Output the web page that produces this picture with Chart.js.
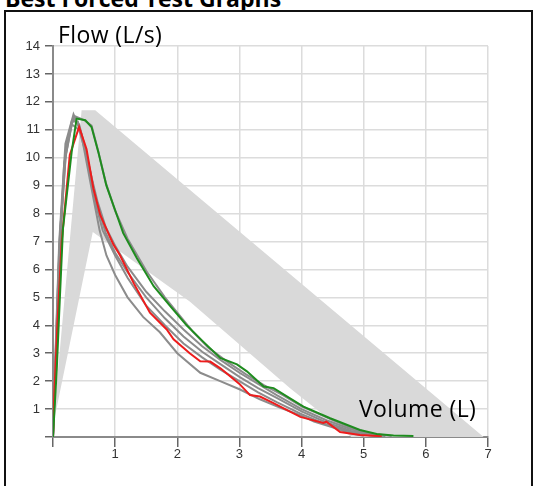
<!DOCTYPE html>
<html>
<head>
<meta charset="utf-8">
<script src="https://cdn.jsdelivr.net/npm/chart.js@4.4.1/dist/chart.umd.min.js"></script>
<style>
  html, body { margin: 0; padding: 0; background: #fff; overflow: hidden; }
  body { width: 536px; height: 486px; position: relative; }
  #title { position: absolute; left: 5px; top: -13px; font: bold 23px 'Open Sans', sans-serif; line-height: 22px; color: #000; white-space: nowrap; }
  #frame { position: absolute; left: 4px; top: 10px; width: 525px; height: 500px; border: 2px solid #111; background: #fff; }
  #chart { position: absolute; left: 0; top: 0; }
  .axis-title { position: absolute; font: 23px 'Open Sans', sans-serif; letter-spacing: 0.4px; color: #000; white-space: nowrap; line-height: 22px; }
  #ytitle { left: 58px; top: 23px; }
  #xtitle { left: 359px; top: 397px; }
</style>
</head>
<body>
<div id="title">Best Forced Test Graphs</div>
<div id="frame"></div>
<canvas id="chart" width="536" height="486"></canvas>
<div class="axis-title" id="ytitle">Flow (L/s)</div>
<div class="axis-title" id="xtitle">Volume (L)</div>
<script>
const xTicks = [0, 1, 2, 3, 4, 5, 6, 7];
const yTicks = [0, 1, 2, 3, 4, 5, 6, 7, 8, 9, 10, 11, 12, 13, 14];

// predicted range (grey band outline)
const bandVol = [0, 0.46, 0.68, 6.93, 4.8, 3.82, 2.2, 0.64, 0];
const bandFlow = [0.4, 11.7, 11.7, 0, 0, 1.74, 4.85, 7.34, 0.4];

// best trial
const redVol = [0, 0.02, 0.07, 0.14, 0.27, 0.42, 0.54, 0.65, 0.76, 0.97, 1.08, 1.3, 1.56, 1.83, 1.94, 2.2, 2.37, 2.53, 2.7, 3.0, 3.17, 3.33, 3.54, 3.98, 4.35, 4.4, 4.62, 4.94, 5.29];
const redFlow = [0, 1.5, 4.0, 7.0, 10.1, 11.1, 10.3, 8.9, 7.95, 6.9, 6.5, 5.5, 4.45, 3.85, 3.5, 3.0, 2.71, 2.7, 2.45, 1.9, 1.5, 1.45, 1.22, 0.72, 0.5, 0.55, 0.18, 0.07, 0.03];

const greenVol = [0, 0.06, 0.1, 0.16, 0.3, 0.38, 0.52, 0.62, 0.73, 0.86, 1.03, 1.13, 1.35, 1.62, 1.88, 2.15, 2.4, 2.69, 2.96, 3.12, 3.39, 3.55, 4.03, 4.46, 4.94, 5.21, 5.48, 5.8];
const greenFlow = [0, 2.4, 4.45, 7.45, 10.2, 11.4, 11.34, 11.1, 10.2, 9.0, 7.93, 7.3, 6.4, 5.4, 4.7, 4.0, 3.45, 2.83, 2.6, 2.35, 1.81, 1.75, 1.09, 0.67, 0.25, 0.11, 0.05, 0.04];

// other trials
const grey1Vol = [0, 0.05, 0.12, 0.22, 0.34, 0.5, 0.62, 0.72, 0.85, 1.0, 1.2, 1.5, 1.8, 2.0, 2.26, 2.5, 2.8, 3.1, 3.4, 3.7, 4.0, 4.4, 4.8, 5.1, 5.45];
const grey1Flow = [0, 3.0, 7.5, 10.5, 11.5, 11.35, 11.15, 10.3, 9.1, 8.1, 7.1, 5.95, 5.0, 4.45, 3.75, 3.2, 2.7, 2.25, 1.85, 1.5, 1.1, 0.7, 0.33, 0.13, 0.04];

const grey2Vol = [0, 0.04, 0.1, 0.2, 0.32, 0.42, 0.52, 0.62, 0.72, 0.85, 1.0, 1.2, 1.5, 1.8, 2.1, 2.4, 2.7, 3.0, 3.3, 3.6, 4.0, 4.4, 4.8, 5.1, 5.35];
const grey2Flow = [0, 2.5, 6.5, 10.0, 11.4, 11.2, 10.3, 9.3, 8.4, 7.5, 6.85, 6.1, 5.2, 4.5, 3.85, 3.25, 2.75, 2.3, 1.9, 1.5, 1.0, 0.6, 0.28, 0.1, 0.03];

const grey3Vol = [0, 0.04, 0.1, 0.2, 0.3, 0.4, 0.5, 0.6, 0.7, 0.85, 1.0, 1.2, 1.5, 1.8, 2.1, 2.4, 2.7, 3.0, 3.3, 3.6, 4.0, 4.4, 4.8, 5.1, 5.3];
const grey3Flow = [0, 2.8, 6.8, 10.2, 11.3, 11.3, 10.5, 9.5, 8.4, 7.3, 6.6, 5.9, 5.0, 4.25, 3.6, 3.05, 2.6, 2.15, 1.75, 1.4, 0.92, 0.52, 0.22, 0.07, 0.02];

const grey4Vol = [0, 0.03, 0.09, 0.18, 0.3, 0.42, 0.55, 0.68, 0.8, 1.0, 1.2, 1.5, 1.8, 2.1, 2.4, 2.7, 3.0, 3.3, 3.6, 4.0, 4.4, 4.8, 5.1, 5.25];
const grey4Flow = [0, 2.0, 6.0, 9.8, 11.2, 11.0, 10.0, 8.4, 7.4, 6.5, 5.7, 4.7, 4.0, 3.35, 2.85, 2.4, 2.0, 1.6, 1.25, 0.82, 0.45, 0.18, 0.05, 0.02];

const grey5Vol = [0, 0.04, 0.1, 0.2, 0.33, 0.45, 0.62, 0.75, 0.86, 1.0, 1.2, 1.45, 1.72, 2.0, 2.37, 2.69, 3.01, 3.33, 3.65, 3.98, 4.2, 4.46, 4.78, 5.0];
const grey5Flow = [0, 3.0, 7.0, 10.5, 11.55, 10.9, 8.9, 7.4, 6.5, 5.8, 5.0, 4.3, 3.75, 3.0, 2.3, 2.0, 1.7, 1.35, 1.05, 0.78, 0.55, 0.37, 0.14, 0.04];

const toPoints = (xs, ys) => xs.map((x, i) => ({ x: x, y: ys[i] }));

const trace = (xs, ys, color, order) => ({
  data: toPoints(xs, ys),
  borderColor: color,
  borderWidth: 2,
  pointRadius: 0,
  tension: 0,
  fill: false,
  order: order,
});

const greyTrace = '#8c8c8c';

new Chart(document.getElementById('chart'), {
  type: 'line',
  data: {
    datasets: [
      {
        data: toPoints(bandVol, bandFlow),
        borderWidth: 0,
        borderColor: 'rgba(0,0,0,0)',
        backgroundColor: '#d9d9d9',
        pointRadius: 0,
        tension: 0,
        fill: 'shape',
        order: 10,
      },
      trace(grey1Vol, grey1Flow, greyTrace, 5),
      trace(grey2Vol, grey2Flow, greyTrace, 5),
      trace(grey3Vol, grey3Flow, greyTrace, 5),
      trace(grey4Vol, grey4Flow, greyTrace, 5),
      trace(grey5Vol, grey5Flow, greyTrace, 5),
      trace(redVol, redFlow, '#ee1c1c', 2),
      trace(greenVol, greenFlow, '#1e8c1e', 1),
    ],
  },
  options: {
    responsive: false,
    animation: false,
    layout: { padding: { left: 0, right: 48, top: 46, bottom: 0 } },
    plugins: { legend: { display: false }, tooltip: { enabled: false } },
    scales: {
      x: {
        type: 'linear',
        min: 0,
        max: 7,
        afterFit: (s) => { s.height = 49; },
        afterBuildTicks: (s) => { s.ticks = xTicks.map((v) => ({ value: v })); },
        ticks: {
          padding: 0,
          color: '#333',
          font: { family: "'Liberation Sans', Arial, sans-serif", size: 13 },
          callback: (v) => (v === 0 ? '' : v),
        },
        grid: { color: '#dcdcdc', lineWidth: 1.5, tickLength: 10, tickColor: '#666', tickWidth: 1.5 },
        border: { color: '#8a8a8a', width: 2 },
      },
      y: {
        type: 'linear',
        min: 0,
        max: 14,
        afterFit: (s) => { s.width = 53; },
        afterBuildTicks: (s) => { s.ticks = yTicks.map((v) => ({ value: v })); },
        ticks: {
          padding: 5,
          color: '#333',
          font: { family: "'Liberation Sans', Arial, sans-serif", size: 13 },
          callback: (v) => (v === 0 ? '' : v),
        },
        grid: { color: '#dcdcdc', lineWidth: 1.5, tickLength: 8, tickColor: '#666', tickWidth: 1.5 },
        border: { color: '#8a8a8a', width: 2 },
      },
    },
  },
});
</script>
</body>
</html>
